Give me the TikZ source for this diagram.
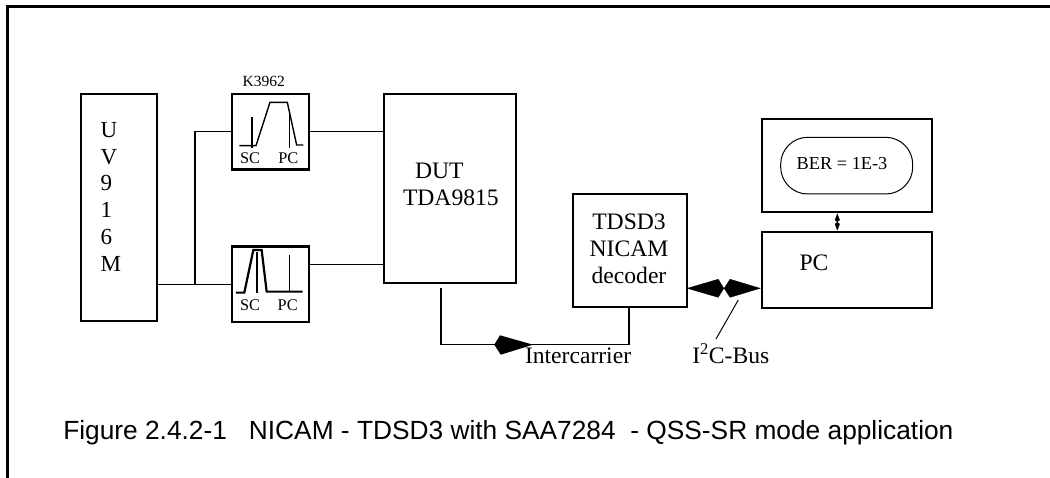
\documentclass[tikz,border=0pt]{standalone}
\usepackage{fontspec}
\setmainfont{Liberation Serif}
\setsansfont{Liberation Sans}
\usetikzlibrary{arrows.meta}
\begin{document}
\begin{tikzpicture}[x=1pt,y=-1pt,
  every node/.style={inner sep=0pt,outer sep=0pt},
  blk/.style={draw,line width=2pt,rectangle,anchor=north west},
  fbox/.style={draw,line width=2.6pt,rectangle,anchor=north west,minimum width=77pt,minimum height=75.3pt},
  lbl/.style={font=\fontsize{23.6}{27}\selectfont,anchor=base,align=center},
  tiny/.style={font=\fontsize{16.3}{18}\selectfont,anchor=base west},
  wire/.style={line width=1.6pt},
  trace/.style={line width=1.4pt,line join=miter},
  hd/.style={fill=black,draw=none}]
\useasboundingbox (0,0) rectangle (1050,478);
% frame
\coordinate (fa) at (7.7,478);
\coordinate (fb) at (7.7,6.5);
\coordinate (fc) at (1050,6.5);
\draw[line width=3pt,line join=miter] (fa) -- (fb) -- (fc);
% blocks
\node[blk,minimum width=76.3pt,minimum height=227.3pt] (uv) at (80.7,94) {};
\node[fbox] (fone) at (232,94) {};
\node[fbox] (ftwo) at (232,246.7) {};
\node[blk,minimum width=132pt,minimum height=189.3pt] (dut) at (384,94) {};
\node[blk,minimum width=113.4pt,minimum height=113.3pt] (dec) at (573.3,194) {};
\node[blk,minimum width=170.6pt,minimum height=93.3pt] (ber) at (761.7,119) {};
\node[blk,minimum width=170.6pt,minimum height=76pt] (pc) at (761.7,231.7) {};
\node[draw,line width=1pt,rectangle,rounded corners=27pt,minimum width=132pt,minimum height=56.7pt,anchor=north west] (oval) at (780.7,137.3) {};
% block text
\node[font=\fontsize{23}{26.9}\selectfont,anchor=base west,align=left] (uvt) at (100.7,271.7) {U\\V\\9\\1\\6\\M};
\node[font=\fontsize{15.5}{18}\selectfont,anchor=base west] (kt) at (242.7,86.7) {K3962};
\node[tiny] (sca) at (240,164) {SC};
\node[tiny] (pca) at (278.3,164) {PC};
\node[tiny] (scb) at (240,310.7) {SC};
\node[tiny] (pcb) at (277.7,310.7) {PC};
\node[lbl,anchor=base west] (dutt) at (415,179) {DUT};
\node[lbl,anchor=base west] (tda) at (403,205.7) {TDA9815};
\node[lbl] (dect) at (629,284) {TDSD3\\NICAM\\decoder};
\node[font=\fontsize{18.3}{20}\selectfont,anchor=base west] (bert) at (796.7,170) {BER = 1E-3};
\node[lbl,anchor=base west] (pct) at (799.5,270.7) {PC};
\node[lbl,anchor=base west] (inter) at (525,364) {Intercarrier};
\node[lbl,anchor=base west] (i2c) at (692.3,363.3) {I\textsuperscript{2}C-Bus};
\node[font=\sffamily\fontsize{26.3}{30}\selectfont,anchor=base west] (cap) at (63.3,439.3) {Figure 2.4.2-1~~~NICAM - TDSD3 with SAA7284~~- QSS-SR mode application};
% filter traces
\begin{scope}[shift={(190,60)},x=0.3333pt,y=-0.3333pt]
\draw[trace] (148,257) -- (198,257) -- (240,127) -- (292,127) -- (320,255) -- (340,255);
\draw[wire] (186,172) -- (186,265);
\draw[wire] (299,152) -- (299,263);
\draw[line width=2.2pt,line join=miter] (138,698) -- (163,698) -- (190,570) -- (215,570) -- (230,695) -- (338,695);
\draw[wire] (201,575) -- (201,700);
\draw[wire] (299,585) -- (299,695);
\end{scope}
% connectors
\coordinate (jn) at (195,284.3);
\coordinate (fonel) at (195,131.65);
\coordinate (ftwor) at (309,264.7);
\coordinate (dutl) at (384,264.7);
\draw[wire] (uv.east |- ftwo.west) -- (ftwo.west);
\draw[wire] (jn) -- (fonel) -- (fone.west);
\draw[wire] (fone.east) -- (fone.east -| dut.west);
\draw[wire] (ftwor) -- (dutl);
\coordinate (outa) at (440.7,288);
\coordinate (outb) at (440.7,344.7);
\coordinate (outc) at (629,344.7);
\draw[wire,line join=miter] (outa) -- (outb) -- (outc) -- (dec.south -| outc);
\coordinate (kt1) at (533,344.7);
\coordinate (kt2) at (500,335.3);
\coordinate (kt3) at (494.3,344.7);
\coordinate (kt4) at (500.7,354.7);
\fill[hd] (kt1) -- (kt2) -- (kt3) -- (kt4) -- cycle;
\coordinate (ia) at (686.7,288.3);
\coordinate (ib) at (760.7,288.3);
\draw[line width=0.3pt,{Kite[length=37.3pt,width=18.5pt,inset=5.7pt]}-{Kite[length=36.7pt,width=18.5pt,inset=6pt]}] (ia) -- (ib);
\coordinate (la) at (738.3,300);
\coordinate (lb) at (716,339);
\draw[line width=1pt] (la) -- (lb);
\coordinate (sa) at (837.3,213.5);
\coordinate (sb) at (837.3,230.5);
\draw[line width=0.3pt,{Kite[length=8.5pt,width=5pt,inset=2pt]}-{Kite[length=8.5pt,width=5pt,inset=2pt]}] (sa) -- (sb);
\end{tikzpicture}
\end{document}
